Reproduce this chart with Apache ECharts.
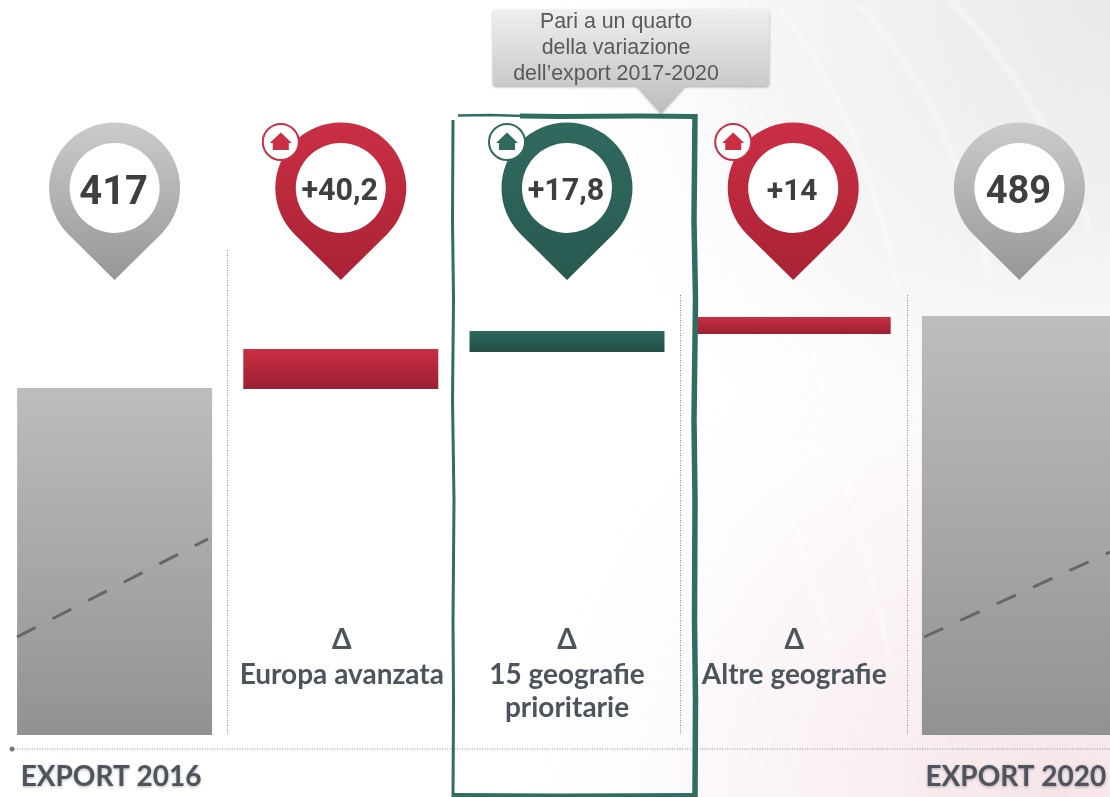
<!DOCTYPE html>
<html><head><meta charset="utf-8">
<style>html,body{margin:0;padding:0;background:#fff}#c{width:1110px;height:797px}</style>
<script src="https://cdn.jsdelivr.net/npm/echarts@6/dist/echarts.min.js"></script>
</head><body><div id="c"></div>
<script>
const categories = ['EXPORT 2016','Europa avanzata','15 geografie prioritarie','Altre geografie','EXPORT 2020'];
const barBase = [0, 416, 453, 471, 0];
const barSize = [417, 40, 21, 17, 489];
const pinLabels = ['417','+40,2','+17,8','+14','489'];
const pinFontSizes = [40, 30.5, 30.5, 30, 38];
const pinKinds = ['total','up','focus','up','total'];
const deltaLabels = [null, ['Δ','Europa avanzata'], ['Δ','15 geografie','prioritarie'], ['Δ','Altre geografie'], null];
const calloutLines = ['Pari a un quarto','della variazione','dell’export 2017-2020'];

const grad = (a,b)=>new echarts.graphic.LinearGradient(0,0,0,1,[{offset:0,color:a},{offset:1,color:b}]);
const pinColors = {total:['#cbcbcb','#969696'],up:['#ca2f44','#a92235'],focus:['#30695e','#285a50']};
const barColors = {total:['#bdbdbd','#929292'],up:['#ca2f44','#9a2032'],focus:['#2f6a5e','#234c44']};
const ink = '#4d545c', frame = '#2f6e61';
const PIN_TIP = 525, LABEL_Y = 165;

const vDots = (x,y1,y2)=>({type:'line',z:1,shape:{x1:x,y1:y1,x2:x,y2:y2},style:{stroke:'#8a8a8a',lineWidth:1,lineDash:[1,1.5]}});
const wave = (p,c,w)=>({type:'bezierCurve',z:0,shape:{x1:p[0],y1:p[1],cpx1:p[2],cpy1:p[3],cpx2:p[4],cpy2:p[5],x2:p[6],y2:p[7]},style:{fill:'none',stroke:c,lineWidth:w}});
const rough = (pts,w)=>({type:'polyline',z:10,shape:{points:pts},style:{fill:'none',stroke:frame,lineWidth:w,lineJoin:'round'}});
const brk = (x1,y1,x2,y2)=>({type:'line',z:6,shape:{x1,y1,x2,y2},style:{stroke:'#666',lineWidth:3,lineDash:[21,19]}});

const graphic = [
  {type:'rect',z:0,shape:{x:0,y:0,width:1110,height:797},style:{fill:new echarts.graphic.RadialGradient(1,0,0.75,[{offset:0,color:'#e9e9eb'},{offset:0.6,color:'#f6f6f7'},{offset:1,color:'rgba(255,255,255,0)'}])}},
  {type:'rect',z:0,shape:{x:0,y:0,width:1110,height:797},style:{fill:new echarts.graphic.RadialGradient(0.95,1,0.7,[{offset:0,color:'rgba(245,225,229,0.9)'},{offset:0.6,color:'rgba(250,243,245,0.7)'},{offset:1,color:'rgba(255,255,255,0)'}])}},
  wave([780,10,830,70,870,150,900,300],'rgba(255,255,255,0.3)',6),
  wave([860,5,910,60,960,140,990,280],'rgba(255,255,255,0.3)',7),
  wave([950,0,1000,50,1050,120,1090,230],'rgba(255,255,255,0.3)',8),
  wave([730,330,760,420,790,500,830,640],'rgba(255,255,255,0.3)',7),
  wave([810,340,830,430,860,520,890,660],'rgba(255,255,255,0.3)',6),
  vDots(227.5,250,735), vDots(680.5,295,735), vDots(907.5,295,735),
  {type:'line',z:1,shape:{x1:12,y1:749,x2:1110,y2:749},style:{stroke:'#8a8a8a',lineWidth:1,lineDash:[1,1.5]}},
  {type:'circle',z:1,shape:{cx:12,cy:749,r:2.5},style:{fill:'#777'}},
  brk(17,637,208,539), brk(924,637,1110,552),
  rough([[458,115.5],[490,115],[525,116]],2.5),
  rough([[520,116],[560,116.5],[640,116],[695,116.5]],5),
  rough([[695,114],[694,220],[695.5,300],[694,420],[695,500],[694.5,620],[695.5,700],[695,797]],5.5),
  rough([[453,120],[452.5,220],[453.5,300],[452.5,400],[454,500],[453,620],[453.5,700],[453,797]],3),
  rough([[452,795],[560,795.5],[697,795]],4),
  {type:'polygon',z:11,shape:{points:[[493,12],[495,10],[767,10],[769,12],[769,84],[767,86],[685,86],[661,113],[637,86],[495,86],[493,84]]},
   style:{fill:grad('#efefef','#bcbcbc'),shadowBlur:3,shadowOffsetY:1,shadowColor:'rgba(0,0,0,0.35)'}},
  ...calloutLines.map((t,i)=>({type:'text',z:12,x:616,y:22+26*i,style:{text:t,fill:'#595959',font:'21.4px "Liberation Sans"',align:'center',verticalAlign:'middle'}}))
];

function renderPin(params, api){
  const i = api.value(0), c = api.coord([i, PIN_TIP]);
  const cx = c[0], tip = c[1], cy = tip-92, kind = pinKinds[i], col = pinColors[kind], R = 65.5;
  const t = R*Math.SQRT1_2;
  const children = [
    {type:'path',shape:{pathData:`M0 ${92} L${-t} ${t} A${R} ${R} 0 1 1 ${t} ${t} Z`,layout:'cover',x:cx-R,y:cy-R,width:2*R,height:R+92},
     style:{fill:grad(col[0],col[1])}},
    {type:'circle',shape:{cx:cx,cy:cy,r:45},style:{fill:'#fff'}},
    {type:'text',style:{text:pinLabels[i],x:cx-1,y:cy+(kind==='total'?5.5:4),align:'center',verticalAlign:'middle',fill:'#3f3f41',font:`bold ${pinFontSizes[i]}px Roboto`}}
  ];
  if(kind!=='total'){
    const bx = cx-60, by = cy-46;
    children.push(
      {type:'circle',shape:{cx:bx,cy:by,r:18},style:{fill:'#fff',stroke:col[0],lineWidth:2}},
      {type:'polygon',shape:{points:[[bx,by-9.5],[bx+11,by+1],[bx+8,by+1],[bx+8,by+8],[bx-8,by+8],[bx-8,by+1],[bx-11,by+1]]},style:{fill:col[0]}}
    );
  }
  return {type:'group',children};
}
function renderDelta(params, api){
  const i = api.value(0), lines = deltaLabels[i];
  if(!lines) return null;
  const c = api.coord([i, LABEL_Y]);
  return {type:'group',children:lines.map((t,k)=>({type:'text',style:{
    text:t,x:c[0]+(i===1||i===3?1:0),y:c[1]+(k?35+(k-1)*33:0),align:'center',verticalAlign:'middle',fill:ink,
    font:`bold 28px Lato`}}))};
}
const idx = categories.map((_,i)=>[i]);
const chart = echarts.init(document.getElementById('c'),null,{renderer:'canvas'});
chart.setOption({
  animation:false,
  backgroundColor:'#fff',
  graphic:{elements:graphic},
  grid:{left:1.5,width:1131,top:35,bottom:62,outerBoundsMode:'none'},
  xAxis:{type:'category',data:categories,axisLine:{show:false},axisTick:{show:false},
    axisLabel:{interval:0,margin:28,color:ink,fontFamily:'Lato',fontWeight:'bold',fontSize:28,hideOverlap:false,padding:[0,7,0,0],
      textShadowColor:'rgba(0,0,0,0.3)',textShadowBlur:3,textShadowOffsetY:1,
      formatter:v=>v.startsWith('EXPORT')?v:''}},
  yAxis:{type:'value',min:70,max:770,show:false,splitLine:{show:false}},
  series:[
    {type:'bar',stack:'w',barWidth:195,silent:true,itemStyle:{color:'transparent'},data:barBase},
    {type:'bar',stack:'w',barWidth:195,silent:true,data:barSize.map((v,i)=>{const c=barColors[pinKinds[i]];return {value:v,itemStyle:{color:grad(c[0],c[1])}};})},
    {type:'custom',renderItem:renderPin,data:idx,encode:{x:0},silent:true,z:5},
    {type:'custom',renderItem:renderDelta,data:idx,encode:{x:0},silent:true,z:5}
  ]
});
</script></body></html>
